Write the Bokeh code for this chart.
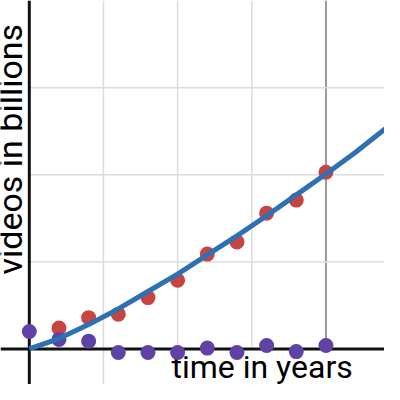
import math
from bokeh.plotting import figure
from bokeh.models import Span, Label
from bokeh.embed import file_html
from bokeh.resources import INLINE

# data (years, billions)
years = [0, 1, 2, 3, 4, 5, 6, 7, 8, 9, 10]
red_years = [1, 2, 3, 4, 5, 6, 7, 8, 9, 10]
red_vals = [0.24, 0.36, 0.40, 0.59, 0.79, 1.09, 1.23, 1.56, 1.71, 2.03]
purple_vals = [0.20, 0.11, 0.09, -0.04, -0.04, -0.04, 0.01, -0.04, 0.04, -0.03, 0.04]
curve_x = [0, 1, 2, 3, 4, 5, 6, 7, 8, 9, 10, 11, 12]
curve_y = [0, 0.12, 0.28, 0.46, 0.66, 0.86, 1.08, 1.30, 1.53, 1.77, 2.01, 2.26, 2.53]
grid_x_minor = [2.5, 5, 7.5]
grid_x_major = [10]
grid_y = [1, 2, 3]

W = H = 384
p = figure(width=W, height=H, output_backend="svg", toolbar_location=None,
           x_range=(-0.971, 11.974), y_range=(-0.408, 4.003),
           min_border=0)
p.axis.visible = False
p.grid.visible = False
p.outline_line_color = None
p.background_fill_color = "white"

for gx in grid_x_minor:
    p.add_layout(Span(location=gx, dimension="height", line_color="#dcdcdc", line_width=1.5, level="underlay"))
for gx in grid_x_major:
    p.add_layout(Span(location=gx, dimension="height", line_color="#9a9a9a", line_width=2, level="underlay"))
for gy in grid_y:
    p.add_layout(Span(location=gy, dimension="width", line_color="#dcdcdc", line_width=1.5, level="underlay"))

p.add_layout(Label(x=171, y=18, x_units="screen", y_units="screen", text="time in years",
                   text_font="Roboto", text_font_size="32px", text_color="black",
                   text_baseline="alphabetic", text_align="left", level="underlay",
                   background_fill_color="white", background_fill_alpha=1.0))
p.add_layout(Label(x=9, y=110, x_units="screen", y_units="screen", text="videos in billions",
                   angle=math.pi / 2, text_font="Roboto", text_font_size="34px", text_color="black",
                   text_baseline="alphabetic", text_align="left", level="underlay",
                   background_fill_color="white", background_fill_alpha=1.0))

p.add_layout(Span(location=0, dimension="height", line_color="#111111", line_width=3, level="underlay"))
p.add_layout(Span(location=0, dimension="width", line_color="#111111", line_width=3, level="underlay"))

p.scatter(red_years, red_vals, size=15, color="#c74440", line_color=None)
p.scatter(years, purple_vals, size=15, color="#6042a6", line_color=None)
p.line(curve_x, curve_y, line_width=5, color="#2d70b3")

open("out.html", "w").write(file_html(p, INLINE))
